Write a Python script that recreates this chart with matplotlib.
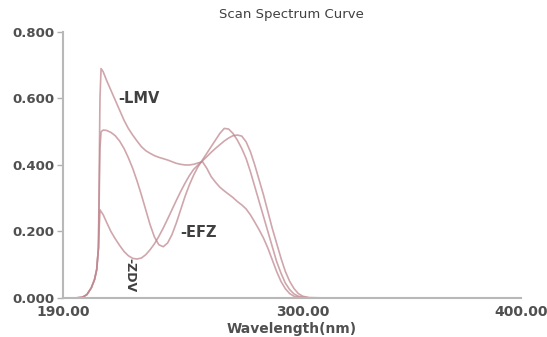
import matplotlib
matplotlib.use("Agg")
import matplotlib.pyplot as plt

# wavelength grid (nm)
wavelength = [190, 196, 199, 201, 203, 204.5, 205.5, 206.3, 207, 207.5, 208.5,
              210, 212, 214, 216, 218, 220, 222, 224, 226, 228, 230, 232, 234,
              236, 238, 240, 242, 244, 246, 248, 250, 252, 254, 256, 258, 260,
              262, 264, 266, 268, 270, 272, 274, 276, 278, 280, 282, 284, 286,
              288, 290, 292, 294, 296, 298, 300, 303, 310, 350, 400]

# absorbance curves
lmv = [0, 0, 0.002, 0.01, 0.03, 0.055, 0.085, 0.15, 0.60, 0.69, 0.68,
       0.655, 0.625, 0.595, 0.565, 0.535, 0.51, 0.49, 0.472, 0.455, 0.443, 0.435, 0.428, 0.423,
       0.419, 0.415, 0.41, 0.405, 0.402, 0.40, 0.40, 0.402, 0.406, 0.41, 0.39, 0.365, 0.348,
       0.333, 0.322, 0.312, 0.302, 0.29, 0.28, 0.268, 0.25, 0.228, 0.205, 0.18, 0.15, 0.115,
       0.08, 0.05, 0.028, 0.013, 0.005, 0.002, 0, 0, 0, 0, 0]

efz = [0, 0, 0.002, 0.01, 0.03, 0.055, 0.085, 0.15, 0.45, 0.50, 0.505,
       0.504, 0.498, 0.488, 0.472, 0.45, 0.422, 0.39, 0.352, 0.31, 0.265, 0.22, 0.183, 0.16,
       0.154, 0.165, 0.19, 0.225, 0.265, 0.305, 0.34, 0.37, 0.395, 0.415, 0.435, 0.455, 0.475,
       0.495, 0.51, 0.508, 0.495, 0.475, 0.45, 0.42, 0.38, 0.335, 0.29, 0.245, 0.2, 0.155,
       0.11, 0.075, 0.045, 0.025, 0.012, 0.005, 0.002, 0, 0, 0, 0]

zdv = [0, 0, 0.002, 0.01, 0.03, 0.055, 0.085, 0.15, 0.265, 0.26, 0.25,
       0.228, 0.2, 0.178, 0.158, 0.14, 0.127, 0.119, 0.117, 0.12, 0.13, 0.145, 0.163, 0.185,
       0.21, 0.237, 0.265, 0.293, 0.32, 0.345, 0.368, 0.387, 0.40, 0.412, 0.425, 0.438, 0.45,
       0.461, 0.472, 0.481, 0.488, 0.49, 0.487, 0.47, 0.44, 0.40, 0.355, 0.31, 0.26, 0.21,
       0.165, 0.12, 0.08, 0.05, 0.028, 0.013, 0.005, 0.001, 0, 0, 0]

x_ticks = [190, 300, 400]
x_tick_labels = ["190.00", "300.00", "400.00"]
y_ticks = [0.0, 0.2, 0.4, 0.6, 0.8]
y_tick_labels = ["0.000", "0.200", "0.400", "0.600", "0.800"]

fig = plt.figure(figsize=(5.47, 3.37), dpi=100)
ax = fig.add_axes([0.115, 0.116, 0.837, 0.789])

line_color = "#c08890"
for series in (lmv, efz, zdv):
    ax.plot(wavelength, series, color=line_color, lw=1.2, alpha=0.75, clip_on=False)

ax.set_xlim(190, 400)
ax.set_ylim(0, 0.8)

ax.set_xticks(x_ticks, labels=x_tick_labels)
ax.set_yticks(y_ticks, labels=y_tick_labels)
ax.tick_params(axis="x", length=0, pad=5, labelsize=10, labelcolor="#505050")
ax.tick_params(axis="y", length=4, width=1, color="#b0b0b0", pad=2,
               labelsize=9.5, labelcolor="#505050")
for lbl in ax.get_xticklabels() + ax.get_yticklabels():
    lbl.set_fontweight("bold")

for side in ("top", "right"):
    ax.spines[side].set_visible(False)
for side in ("left", "bottom"):
    ax.spines[side].set_color("#b8b8b8")
    ax.spines[side].set_linewidth(1.5)

ax.set_title("Scan Spectrum Curve", fontsize=9.5, color="#404040", pad=10)
ax.set_xlabel("Wavelength(nm)", fontsize=10, fontweight="bold", color="#505050", labelpad=2)

# curve labels
txt = dict(fontsize=10.5, fontweight="bold", color="#404040")
ax.text(215.2, 0.60, "-LMV", ha="left", va="center", **txt)
ax.text(243.6, 0.196, "-EFZ", ha="left", va="center", **txt)
ax.text(220.7, 0.12, "-ZDV", ha="center", va="top", rotation=270,
        fontsize=9, fontweight="bold", color="#404040")

fig.savefig("out.png", dpi=100)
